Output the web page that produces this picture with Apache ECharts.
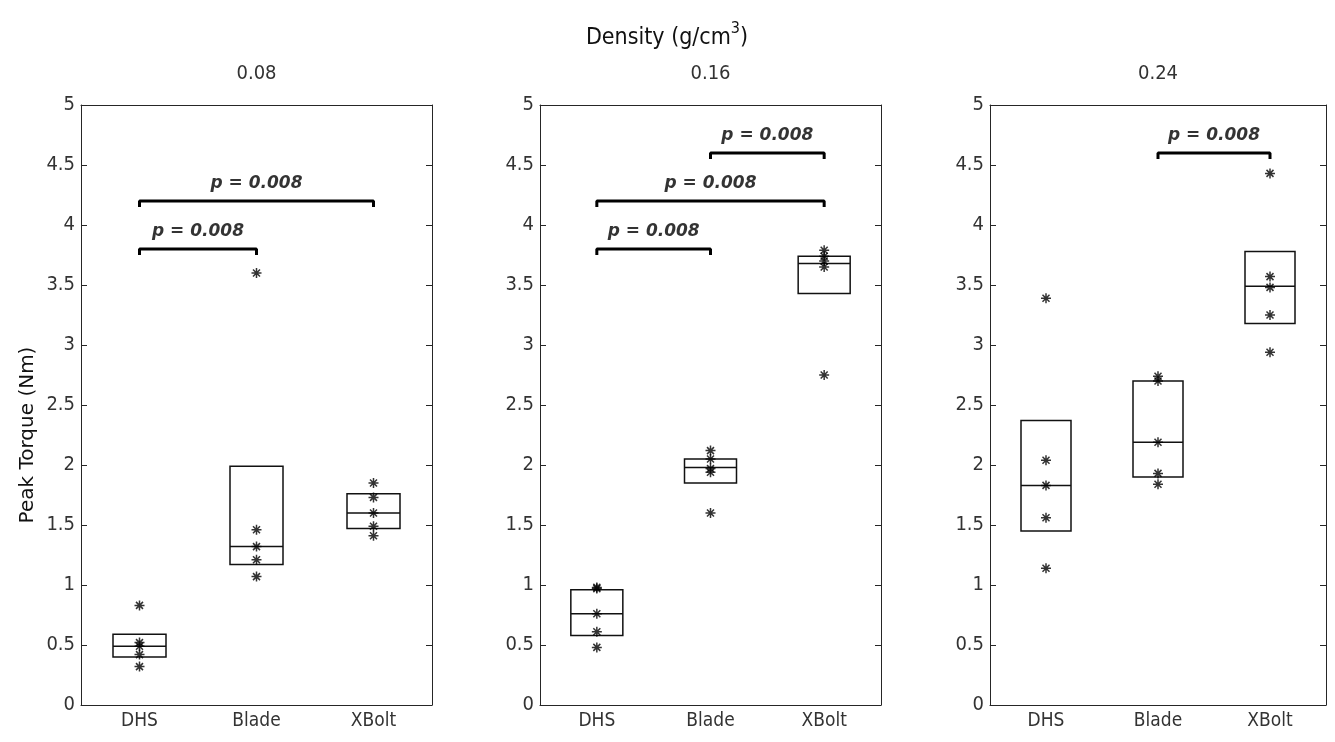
<!DOCTYPE html>
<html>
<head>
<meta charset="utf-8">
<script src="https://cdn.jsdelivr.net/npm/echarts@6/dist/echarts.min.js"></script>
<style>
	html, body { margin: 0; padding: 0; background: #fff; }
	#main { width: 1335px; height: 742px; }
</style>
</head>
<body>
<div id="main"></div>
<script>
const categories = ["DHS", "Blade", "XBolt"];
const densities = ["0.08", "0.16", "0.24"];

// boxes: [q1, median, q3] per category
const boxes008 = [[0.40, 0.49, 0.59], [1.17, 1.32, 1.99], [1.47, 1.60, 1.76]];
const boxes016 = [[0.58, 0.76, 0.96], [1.85, 1.98, 2.05], [3.43, 3.68, 3.74]];
const boxes024 = [[1.45, 1.83, 2.37], [1.90, 2.19, 2.70], [3.18, 3.49, 3.78]];

// raw measurements per category
const points008 = [[0.83, 0.52, 0.49, 0.42, 0.32], [3.60, 1.46, 1.32, 1.21, 1.07], [1.85, 1.73, 1.60, 1.49, 1.41]];
const points016 = [[0.98, 0.97, 0.76, 0.61, 0.48], [2.12, 2.05, 1.97, 1.94, 1.60], [3.79, 3.74, 3.70, 3.65, 2.75]];
const points024 = [[3.39, 2.04, 1.83, 1.56, 1.14], [2.74, 2.70, 2.19, 1.93, 1.84], [4.43, 3.57, 3.48, 3.25, 2.94]];

// significance brackets: [from category, to category, height]
const brackets008 = [[0, 1, 3.8], [0, 2, 4.2]];
const brackets016 = [[0, 1, 3.8], [0, 2, 4.2], [1, 2, 4.6]];
const brackets024 = [[1, 2, 4.6]];
const pText = "p = 0.008";

const panels = [
	{ boxes: boxes008, points: points008, brackets: brackets008, left: 81, width: 351, boxW: 53 },
	{ boxes: boxes016, points: points016, brackets: brackets016, left: 540, width: 341, boxW: 52 },
	{ boxes: boxes024, points: points024, brackets: brackets024, left: 990, width: 336, boxW: 50 },
];

const tickFont = "'DejaVu Sans Condensed', 'DejaVu Sans', sans-serif";
const lineColor = "#262626";
const star = "path://M0 8.5L20 8.5L20 11.5L0 11.5Z M8.5 0L11.5 0L11.5 20L8.5 20Z " +
	"M4.06 1.94L18.06 15.94L15.94 18.06L1.94 4.06Z M18.06 4.06L4.06 18.06L1.94 15.94L15.94 1.94Z";

const chart = echarts.init(document.getElementById("main"));

const grid = [], xAxis = [], yAxis = [], series = [];

panels.forEach((p, gi) => {
	grid.push({ left: p.left, width: p.width, top: 105, height: 600 });

	// bottom category axis
	xAxis.push({
		gridIndex: gi,
		type: "category",
		data: categories,
		position: "bottom",
		axisLine: { onZero: false, lineStyle: { color: lineColor, width: 1 } },
		axisTick: { inside: true, alignWithLabel: true, length: 6, lineStyle: { color: lineColor } },
		axisLabel: { fontFamily: tickFont, fontSize: 19, color: "#333", margin: 7 },
		splitLine: { show: false },
	});
	// top mirror axis
	xAxis.push({
		gridIndex: gi,
		type: "category",
		data: categories,
		position: "top",
		axisLine: { onZero: false, lineStyle: { color: lineColor, width: 1 } },
		axisTick: { inside: true, alignWithLabel: true, length: 6, lineStyle: { color: lineColor } },
		axisLabel: { show: false },
	});
	// hidden value axis for the annotations
	xAxis.push({ gridIndex: gi, type: "value", min: -0.5, max: 2.5, show: false });

	yAxis.push({
		gridIndex: gi,
		type: "value",
		min: 0,
		max: 5,
		interval: 0.5,
		position: "left",
		axisLine: { show: true, onZero: false, lineStyle: { color: lineColor, width: 1 } },
		axisTick: { show: true, inside: true, length: 6, lineStyle: { color: lineColor } },
		axisLabel: { fontFamily: tickFont, fontSize: 20, color: "#333", margin: 6 },
		splitLine: { show: false },
	});
	yAxis.push({
		gridIndex: gi,
		type: "value",
		min: 0,
		max: 5,
		interval: 0.5,
		position: "right",
		axisLine: { show: true, onZero: false, lineStyle: { color: lineColor, width: 1 } },
		axisTick: { show: true, inside: true, length: 6, lineStyle: { color: lineColor } },
		axisLabel: { show: false },
		splitLine: { show: false },
	});

	const xCat = gi * 3, xVal = gi * 3 + 2, yL = gi * 2;

	series.push({
		type: "boxplot",
		xAxisIndex: xCat,
		yAxisIndex: yL,
		boxWidth: [p.boxW, p.boxW],
		data: p.boxes.map((b) => [b[0], b[0], b[1], b[2], b[2]]),
		itemStyle: { color: "transparent", borderColor: "#111", borderWidth: 1.5 },
		silent: true,
		z: 2,
	});

	series.push({
		type: "scatter",
		xAxisIndex: xCat,
		yAxisIndex: yL,
		symbol: star,
		symbolSize: 10,
		itemStyle: { color: "#000" },
		data: p.points.flatMap((vals, ci) => vals.map((v) => [ci, v])),
		z: 3,
	});

	p.brackets.forEach((b) => {
		const [a, c, h] = b;
		series.push({
			type: "line",
			xAxisIndex: xVal,
			yAxisIndex: yL,
			symbol: "none",
			lineStyle: { color: "#000", width: 3 },
			data: [[a, h - 0.05], [a, h], [c, h], [c, h - 0.05]],
			silent: true,
		});
		series.push({
			type: "scatter",
			xAxisIndex: xVal,
			yAxisIndex: yL,
			symbolSize: 0,
			data: [[(a + c) / 2, h]],
			label: {
				show: true,
				position: "top",
				distance: 9,
				formatter: pText,
				fontFamily: "'DejaVu Sans', sans-serif",
				fontWeight: "bold",
				fontStyle: "italic",
				fontSize: 17,
				color: "#000",
			},
			silent: true,
		});
	});
});

const graphic = [
	{
		type: "text",
		x: 667,
		y: 38,
		style: {
			text: "{a|Density (g/cm}{s|3}{a|)}",
			align: "center",
			verticalAlign: "middle",
			rich: {
				a: { fontFamily: tickFont, fontSize: 23, fill: "#111" },
				s: { fontFamily: tickFont, fontSize: 16, fill: "#111", padding: [0, 0, 18, 0] },
			},
		},
	},
	{
		type: "text",
		x: 28,
		y: 435,
		rotation: Math.PI / 2,
		style: {
			text: "Peak Torque (Nm)",
			align: "center",
			verticalAlign: "middle",
			fontFamily: "'DejaVu Sans', sans-serif",
			fontSize: 20,
			fill: "#111",
		},
	},
];
panels.forEach((p, gi) => {
	graphic.push({
		type: "text",
		x: p.left + p.width / 2,
		y: 74,
		style: {
			text: densities[gi],
			align: "center",
			verticalAlign: "middle",
			fontFamily: tickFont,
			fontSize: 20,
			fill: "#333",
		},
	});
});

chart.setOption({
	animation: false,
	backgroundColor: "#fff",
	grid,
	xAxis,
	yAxis,
	series,
	graphic,
});
</script>
</body>
</html>
